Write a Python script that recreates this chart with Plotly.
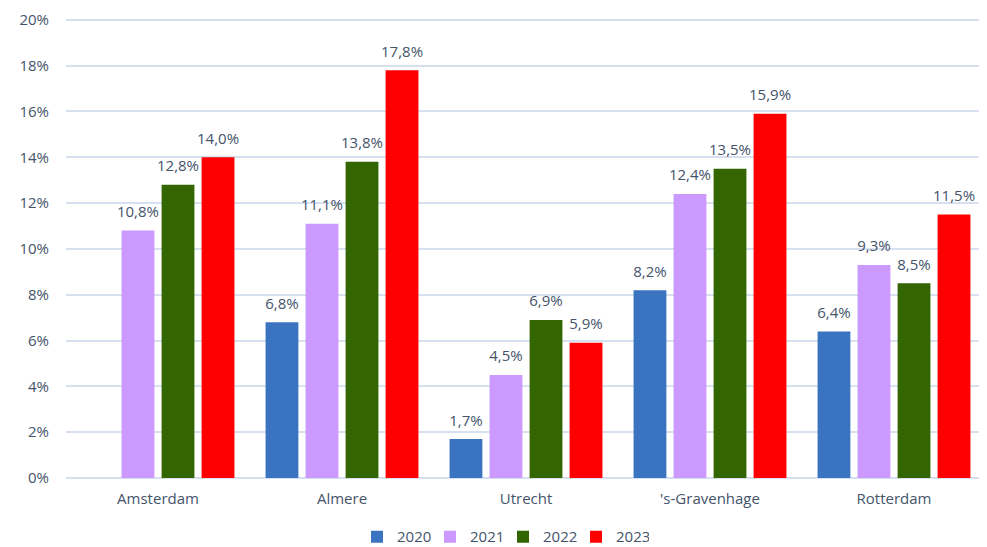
import plotly.graph_objects as go

cities = ["Amsterdam", "Almere", "Utrecht", "'s-Gravenhage", "Rotterdam"]
years = ["2020", "2021", "2022", "2023"]
v2020 = [None, 0.068, 0.017, 0.082, 0.064]
v2021 = [0.108, 0.111, 0.045, 0.124, 0.093]
v2022 = [0.128, 0.138, 0.069, 0.135, 0.085]
v2023 = [0.140, 0.178, 0.059, 0.159, 0.115]
colors = ["#3a73bf", "#cc99ff", "#336600", "#ff0000"]
yticks = [0, 0.02, 0.04, 0.06, 0.08, 0.10, 0.12, 0.14, 0.16, 0.18, 0.20]

series = [v2020, v2021, v2022, v2023]
txt = "#44546a"
font = "'Open Sans', sans-serif"

fig = go.Figure()
for name, vals, col in zip(years, series, colors):
    fig.add_trace(go.Bar(
        x=cities, y=vals, name=name, offsetgroup=name,
        marker=dict(color=col, line=dict(width=0)),
    ))
for name, vals in zip(years, series):
    fig.add_trace(go.Scatter(
        x=cities, y=vals, offsetgroup=name, mode="markers+text",
        marker=dict(size=14, opacity=0), showlegend=False, hoverinfo="skip",
        texttemplate="%{y:.1%}", textposition="top center",
        textfont=dict(color=txt, size=15, family=font), cliponaxis=False,
    ))

fig.update_layout(
    width=979, height=539,
    separators=",.",
    barmode="group", bargap=0.13, bargroupgap=0.18,
    scattermode="group",
    paper_bgcolor="white", plot_bgcolor="white",
    margin=dict(l=58, r=1, t=10, b=69, autoexpand=False),
    font=dict(family=font, color=txt, size=15),
    legend=dict(orientation="h", x=0.475, xanchor="center", y=-0.128, yanchor="middle",
                font=dict(size=15, color=txt), itemwidth=30, traceorder="normal",
                entrywidth=28, entrywidthmode="pixels"),
    xaxis=dict(showgrid=False, ticks="", tickfont=dict(size=15, color=txt),
               showline=False, ticklabelstandoff=10),
    yaxis=dict(range=[0, 0.2008], tickvals=yticks,
               tickformat=".0%", showgrid=True, ticklabeloverflow="allow",
               gridcolor="#d6e0ef", gridwidth=1.5, zeroline=True, zerolinecolor="#d6e0ef",
               zerolinewidth=1.5, tickfont=dict(size=15, color=txt), ticks="",
               ticklabelstandoff=16),
)

fig.write_html("out.html")
